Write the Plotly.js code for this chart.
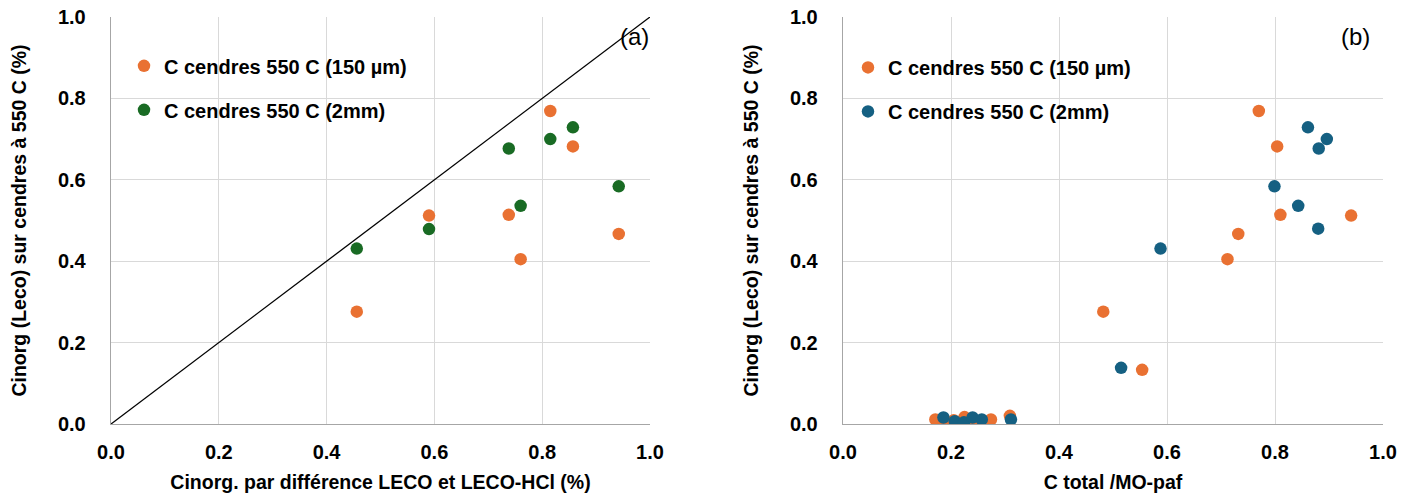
<!DOCTYPE html>
<html>
<head>
<meta charset="utf-8">
<script src="https://cdn.plot.ly/plotly-3.0.1.min.js"></script>
<style>
  html, body { margin: 0; padding: 0; background: #ffffff; }
  #chart { width: 1403px; height: 502px; }
</style>
</head>
<body>
<div id="chart"></div>
<script>
// Panel (a): Cinorg by LECO difference vs Cinorg measured on ashes at 550 C
const aFineX   = [0.456, 0.590, 0.738, 0.760, 0.815, 0.857, 0.942];
const aFineY   = [0.276, 0.512, 0.514, 0.405, 0.769, 0.682, 0.467];
const aCoarseX = [0.456, 0.590, 0.738, 0.760, 0.815, 0.857, 0.942];
const aCoarseY = [0.431, 0.479, 0.677, 0.536, 0.700, 0.729, 0.584];
const oneToOneX = [0, 1];
const oneToOneY = [0, 1];

// Panel (b): C total / MO-paf vs Cinorg measured on ashes at 550 C
const bFineX   = [0.171, 0.186, 0.205, 0.225, 0.244, 0.274, 0.309, 0.482, 0.554, 0.712, 0.732, 0.770, 0.804, 0.810, 0.941];
const bFineY   = [0.011, 0.002, 0.009, 0.017, 0.007, 0.011, 0.020, 0.276, 0.133, 0.405, 0.467, 0.769, 0.682, 0.514, 0.512];
const bCoarseX = [0.186, 0.207, 0.224, 0.240, 0.257, 0.311, 0.515, 0.588, 0.799, 0.843, 0.861, 0.880, 0.881, 0.896];
const bCoarseY = [0.016, 0.007, 0.004, 0.016, 0.011, 0.011, 0.138, 0.431, 0.584, 0.536, 0.729, 0.480, 0.677, 0.700];

const tickVals = [0, 0.2, 0.4, 0.6, 0.8, 1.0];
const tickText = ['0.0', '0.2', '0.4', '0.6', '0.8', '1.0'];

const nameFine = 'C cendres 550 C (150 µm)';
const nameCoarse = 'C cendres 550 C (2mm)';
const yTitle = 'Cinorg (Leco) sur cendres à 550 C (%)';
const xTitleA = 'Cinorg. par différence LECO et LECO-HCl (%)';
const xTitleB = 'C total /MO-paf';

const ORANGE = '#E97132';
const GREEN = '#196B24';
const BLUE = '#156082';

const sans = '"Liberation Sans", Arial, sans-serif';
const tickFont = { family: sans, size: 20, color: '#000000', weight: 'bold' };
const titleFont = { family: sans, size: 19.5, color: '#000000', weight: 'bold' };

const marker = (c) => ({ color: c, size: 12.5, line: { width: 0 } });

const traces = [
  { x: oneToOneX, y: oneToOneY, xaxis: 'x', yaxis: 'y', mode: 'lines',
    line: { color: '#000000', width: 1.3 }, showlegend: false, hoverinfo: 'skip' },
  { x: aFineX, y: aFineY, xaxis: 'x', yaxis: 'y', mode: 'markers', name: nameFine,
    marker: marker(ORANGE), legend: 'legend', legendgroup: 'a1' },
  { x: aCoarseX, y: aCoarseY, xaxis: 'x', yaxis: 'y', mode: 'markers', name: nameCoarse,
    marker: marker(GREEN), legend: 'legend', legendgroup: 'a2' },
  { x: bFineX, y: bFineY, xaxis: 'x2', yaxis: 'y2', mode: 'markers', name: nameFine,
    marker: marker(ORANGE), legend: 'legend2', legendgroup: 'b1' },
  { x: bCoarseX, y: bCoarseY, xaxis: 'x2', yaxis: 'y2', mode: 'markers', name: nameCoarse,
    marker: marker(BLUE), legend: 'legend2', legendgroup: 'b2' }
];

const W = 1403, H = 502;
const axisCommon = {
  range: [0, 1], tickvals: tickVals, ticktext: tickText,
  showgrid: true, gridcolor: '#d9d9d9', gridwidth: 1,
  zeroline: false, showline: true, linecolor: '#a6a6a6', linewidth: 1.3,
  ticks: '', tickfont: tickFont, fixedrange: true
};

const legendCommon = {
  font: { family: sans, size: 20, color: '#000000', weight: 'bold' },
  bgcolor: 'rgba(0,0,0,0)', borderwidth: 0,
  tracegroupgap: 15, itemwidth: 30,
  xanchor: 'left', yanchor: 'top'
};

const layout = {
  width: W, height: H,
  margin: { l: 0, r: 0, t: 17, b: 78 },
  paper_bgcolor: '#ffffff', plot_bgcolor: '#ffffff',
  showlegend: true,
  xaxis: Object.assign({}, axisCommon, {
    domain: [111 / W, 650 / W], anchor: 'y', ticklabelstandoff: 10,
    title: { text: xTitleA, font: titleFont, standoff: 13 }
  }),
  yaxis: Object.assign({}, axisCommon, {
    domain: [0, 1], anchor: 'x', ticklabelstandoff: 20,
    title: { text: yTitle, font: titleFont, standoff: 26 }
  }),
  xaxis2: Object.assign({}, axisCommon, {
    domain: [843 / W, 1383 / W], anchor: 'y2', ticklabelstandoff: 10,
    title: { text: xTitleB, font: titleFont, standoff: 13 }
  }),
  yaxis2: Object.assign({}, axisCommon, {
    domain: [0, 1], anchor: 'x2', ticklabelstandoff: 20,
    title: { text: yTitle, font: titleFont, standoff: 26 }
  }),
  legend: Object.assign({}, legendCommon, { x: 124 / W, y: 0.928 }),
  legend2: Object.assign({}, legendCommon, { x: 848 / W, y: 0.924 }),
  annotations: [
    { text: '(a)', xref: 'paper', yref: 'paper', x: 651 / W, y: 0.99, xanchor: 'right', yanchor: 'top',
      showarrow: false, font: { family: sans, size: 24, color: '#000000' } },
    { text: '(b)', xref: 'paper', yref: 'paper', x: 1372 / W, y: 0.99, xanchor: 'right', yanchor: 'top',
      showarrow: false, font: { family: sans, size: 24, color: '#000000' } }
  ]
};

Plotly.newPlot('chart', traces, layout, { displayModeBar: false, staticPlot: true });
</script>
</body>
</html>
